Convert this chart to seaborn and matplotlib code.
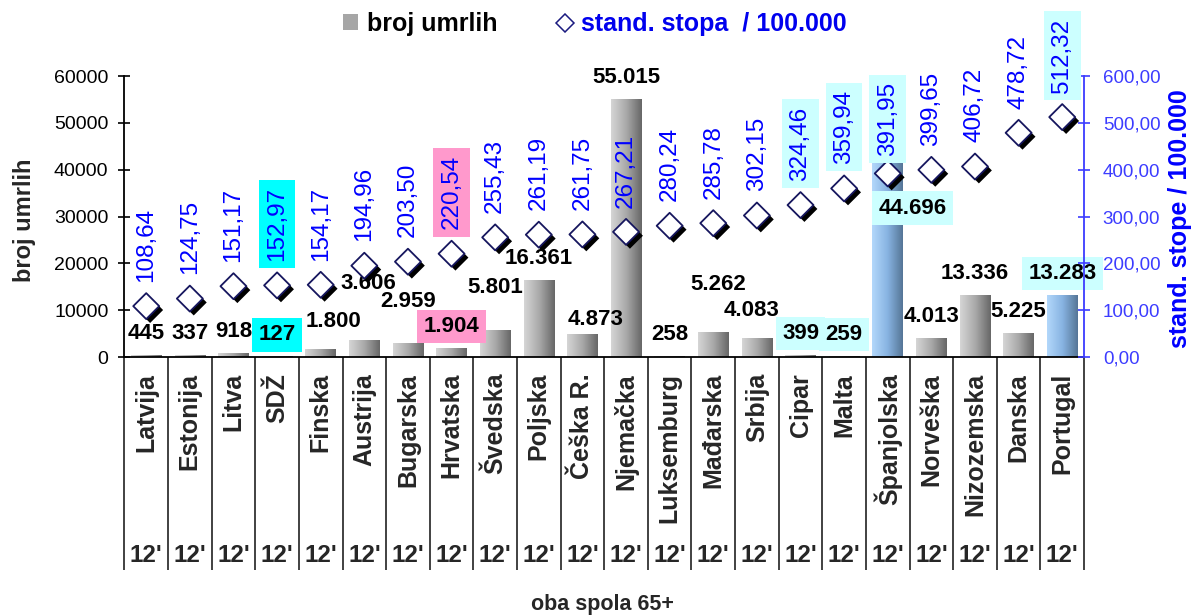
import numpy as np
import pandas as pd
import matplotlib
matplotlib.use("Agg")
import matplotlib.pyplot as plt
import seaborn as sns
import matplotlib.patheffects as pe
from matplotlib.colors import LinearSegmentedColormap
from matplotlib.lines import Line2D
from matplotlib.patches import Patch

# ---------------- data ----------------
countries = ["Latvija", "Estonija", "Litva", "SDŽ", "Finska", "Austrija", "Bugarska",
             "Hrvatska", "Švedska", "Poljska", "Češka R.", "Njemačka", "Luksemburg",
             "Mađarska", "Srbija", "Cipar", "Malta", "Španjolska", "Norveška",
             "Nizozemska", "Danska", "Portugal"]
years = ["12'"] * len(countries)
deaths = [445, 337, 918, 127, 1800, 3606, 2959, 1904, 5801, 16361, 4873, 55015,
          258, 5262, 4083, 399, 259, 44696, 4013, 13336, 5225, 13283]
rates = [108.64, 124.75, 151.17, 152.97, 154.17, 194.96, 203.50, 220.54, 255.43,
         261.19, 261.75, 267.21, 280.24, 285.78, 302.15, 324.46, 359.94, 391.95,
         399.65, 406.72, 478.72, 512.32]
bar_group = ["siva"] * 17 + ["plava"] + ["siva"] * 3 + ["plava"]
left_ticks = [0, 10000, 20000, 30000, 40000, 50000, 60000]
right_ticks = [0, 100, 200, 300, 400, 500, 600]
series_names = ["broj umrlih", "stand. stopa  / 100.000"]
left_title = "broj umrlih"
right_title = "stand. stope / 100.000"
x_title = "oba spola 65+"

# ---------------- styling ----------------
label_box = {3: "#00ffff", 7: "#ff99cc", 15: "#ccffff", 16: "#ccffff",
             17: "#ccffff", 21: "#ccffff"}
count_nudge = {4: (9.4, 4.3), 5: (3, 25), 6: (0, 14.4), 8: (0, 15), 10: (9.4, -5),
               13: (3.3, 18.7), 14: (-4, 4.3), 17: (18, -59)}
rate_nudge = {17: -5}
BLUE = "#0000ff"
TICKBLUE = "#3c3cff"

sns.set_style("white")
plt.rcParams["font.family"] = ["Liberation Sans", "DejaVu Sans"]

n = len(countries)
df = pd.DataFrame({"drzava": countries, "umrli": deaths, "stopa": rates,
                   "grupa": bar_group, "poz": np.arange(n)})

fig = plt.figure(figsize=(11.94, 6.15), dpi=100)
ax1 = fig.add_axes([0.1042, 0.4195, 0.8037, 0.4569])

sns.barplot(data=df, x="drzava", y="umrli", hue="grupa", dodge=False,
            palette={"siva": "#a4a4a4", "plava": "#86b2e0"}, width=0.7,
            saturation=1, legend=False, ax=ax1, zorder=2)

# gradient fill of the bars
grad = np.linspace(0, 1, 256).reshape(1, -1)
cmaps = {"siva": LinearSegmentedColormap.from_list("g", ["#d6d6d6", "#a9a9a9", "#666666"]),
         "plava": LinearSegmentedColormap.from_list("b", ["#b3d8fb", "#88b4e2", "#557596"])}
for p in list(ax1.patches):
    w = p.get_width()
    h = p.get_height()
    if w <= 0 or h <= 0:
        continue
    x0 = p.get_x()
    idx = int(round(x0 + w / 2))
    p.set_edgecolor("none")
    im = ax1.imshow(grad, extent=[x0, x0 + w, 0, h], aspect="auto", origin="lower",
                    cmap=cmaps[bar_group[idx]], zorder=2.1, interpolation="bilinear")
    im.set_clip_path(p)

ax1.set_xlim(-0.5, n - 0.5)
ax1.set_ylim(left_ticks[0], left_ticks[-1])
ax1.set_yticks(left_ticks)
ax1.set_yticklabels([str(t) for t in left_ticks])
ax1.tick_params(axis="y", direction="inout", length=9, width=1.2, labelsize=14,
                pad=7, colors="black", left=True)

# category axis: names + year row, long separators as minor ticks
ax1.set_xticks(np.arange(n))
ax1.set_xticklabels(countries, rotation=90, fontsize=18, fontweight="bold")
ax1.set_xticks(np.arange(-0.5, n, 1.0), minor=True)
ax1.tick_params(axis="x", which="major", length=0, pad=11.5, bottom=True)
ax1.tick_params(axis="x", which="minor", length=153, width=1.3, color="#333333",
                direction="out", bottom=True)
for i, yr in enumerate(years):
    ax1.annotate(yr, xy=(i, 0), xycoords=("data", "axes fraction"), xytext=(0, -142.6),
                 textcoords="offset points", ha="center", va="center", fontsize=17.5,
                 fontweight="bold", annotation_clip=False)

for s in ["top", "right"]:
    ax1.spines[s].set_visible(False)
for s in ["left", "bottom"]:
    ax1.spines[s].set_color("black")
    ax1.spines[s].set_linewidth(1.3)

ax1.set_xlabel(x_title, fontsize=15.5, fontweight="bold")
ax1.xaxis.label.set_verticalalignment("center")
ax1.xaxis.set_label_coords(0.4977, -0.879)
ax1.set_ylabel(left_title, fontsize=17, fontweight="bold")
ax1.yaxis.label.set_verticalalignment("center")
ax1.yaxis.set_label_coords(-0.1036, 0.4875)

# count labels
for i, v in enumerate(deaths):
    dx, dy = count_nudge.get(i, (0, 0))
    box = None
    if i in label_box:
        box = dict(boxstyle="square,pad=0.28", fc=label_box[i], ec="none")
    ax1.annotate(f"{v:,}".replace(",", "."), xy=(i, v), xytext=(dx, 15.5 + dy),
                 textcoords="offset points", ha="center", va="center", fontsize=16,
                 fontweight="bold", color="black", bbox=box, zorder=6,
                 annotation_clip=False)

# ---------------- secondary axis ----------------
ax2 = ax1.twinx()
sns.scatterplot(data=df, x="poz", y="stopa", marker="D", s=175, color="white",
                edgecolor="#16165e", linewidth=1.3, legend=False, ax=ax2, zorder=5)
coll = ax2.collections[-1]
coll.set_path_effects([pe.SimplePatchShadow(offset=(2.8, -2.8), shadow_rgbFace="black",
                                            alpha=1.0), pe.Normal()])
ax2.set_xlim(-0.5, n - 0.5)
ax2.set_ylim(right_ticks[0], right_ticks[-1])
ax2.set_yticks(right_ticks)
ax2.set_yticklabels([f"{t:.2f}".replace(".", ",") for t in right_ticks])
ax2.tick_params(axis="y", direction="inout", length=9, width=1.2, labelsize=13.5,
                pad=9, colors=TICKBLUE, right=True)
for s in ["top", "left", "bottom"]:
    ax2.spines[s].set_visible(False)
ax2.spines["right"].set_color(TICKBLUE)
ax2.spines["right"].set_linewidth(1.3)
ax2.set_ylabel(right_title, fontsize=18, fontweight="bold", color=BLUE)
ax2.yaxis.label.set_verticalalignment("center")
ax2.yaxis.set_label_coords(1.100, 0.491)

for i, r in enumerate(rates):
    box = None
    if i in label_box:
        box = dict(boxstyle="square,pad=0.3", fc=label_box[i], ec="none")
    ax2.annotate(f"{r:.2f}".replace(".", ","), xy=(i, r),
                 xytext=(0, 17.5 + rate_nudge.get(i, 0)), textcoords="offset points",
                 rotation=90, ha="center", va="bottom", fontsize=17.5, color=BLUE,
                 bbox=box, zorder=7, annotation_clip=False)

# ---------------- legend ----------------
handles = [Patch(facecolor="#a6a6a6", edgecolor="none"),
           Line2D([], [], marker="D", linestyle="none", markerfacecolor="white",
                  markeredgecolor="#1a1a80", markersize=9, markeredgewidth=1.1)]
leg = fig.legend(handles, series_names, loc="center left",
                 bbox_to_anchor=(343 / 1194, 1 - 24 / 615), ncol=2, frameon=False,
                 prop={"size": 18, "weight": "bold"}, handlelength=0.6,
                 handleheight=0.6, handletextpad=0.35, columnspacing=2.4,
                 borderaxespad=0, borderpad=0)
for t, c in zip(leg.get_texts(), ["black", "#0000ee"]):
    t.set_color(c)

fig.savefig("out.png", dpi=100)
